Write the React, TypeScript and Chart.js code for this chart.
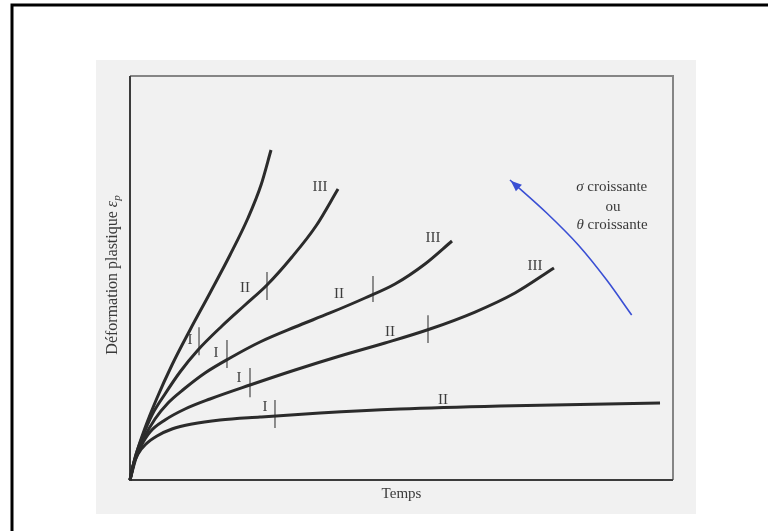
import React, { useEffect, useRef } from "react";
import { Chart, registerables } from "chart.js";

Chart.register(...registerables);

// Time (0-100) and plastic strain (0-100), arbitrary units
const curve1X = [0, 1.10, 2.76, 4.97, 7.73, 11.05, 14.73, 18.42, 21.73, 24.13, 25.97];
const curve1Y = [0, 6.19, 12.87, 20.30, 28.47, 37.13, 46.29, 55.69, 64.85, 73.02, 81.68];

const curve2X = [0, 0.92, 2.21, 4.05, 6.45, 9.21, 12.52, 16.94, 21.18, 25.23, 29.83, 34.25, 38.31];
const curve2Y = [0, 5.45, 10.40, 16.09, 21.29, 26.73, 32.18, 38.12, 43.32, 48.27, 55.20, 62.87, 72.03];

const curve3X = [0, 1.10, 2.58, 4.60, 7.00, 9.94, 13.81, 18.42, 23.94, 30.39, 36.83, 43.28, 48.80, 54.33, 59.30];
const curve3Y = [0, 5.45, 10.40, 15.10, 19.06, 22.52, 26.49, 30.20, 34.16, 37.87, 41.34, 45.05, 48.51, 53.47, 59.16];

const curve4X = [0, 0.74, 1.84, 3.68, 6.45, 10.13, 14.73, 22.10, 30.39, 38.67, 46.96, 55.25, 63.54, 70.90, 78.08];
const curve4Y = [0, 4.46, 7.92, 11.88, 14.85, 17.57, 20.05, 23.51, 27.23, 30.69, 33.91, 37.38, 41.58, 46.29, 52.48];

const curve5X = [0, 0.55, 1.47, 2.95, 4.97, 7.73, 11.42, 16.57, 23.94, 34.99, 49.72, 68.14, 97.61];
const curve5Y = [0, 3.47, 6.44, 8.91, 10.89, 12.62, 13.86, 14.85, 15.59, 16.58, 17.57, 18.32, 19.06];

// Stage boundary markers (x, y from, y to)
const markerX = [12.71, 17.86, 22.1, 26.7, 25.23, 44.75, 54.88];
const markerYLow = [30.9, 27.7, 20.5, 12.9, 44.55, 44.06, 33.9];
const markerYHigh = [37.8, 34.65, 27.7, 19.8, 51.5, 50.5, 40.8];

// Stage labels
const stageText = ["I", "I", "I", "I", "II", "II", "II", "II", "III", "III", "III"];
const stageX = [11.05, 15.84, 20.07, 24.86, 21.18, 38.49, 47.88, 57.64, 34.99, 55.8, 74.59];
const stageY = [34.65, 31.44, 25.25, 18.07, 47.52, 46.04, 36.63, 19.8, 72.52, 59.9, 52.97];

// Blue arrow (ascending x; head at first point)
const arrowX = [69.98, 76.74, 82.56, 87.79, 92.39];
const arrowY = [74.26, 66.09, 58.17, 49.5, 40.84];

const noteLines = ["σ croissante", "ou", "θ croissante"];
const noteX = [88.71, 88.95, 88.77];
const noteY = [72.6, 67.65, 63.12];

const xTitle = "Temps";
const yTitle = "Déformation plastique ";

const zip = (xs: number[], ys: number[]) => xs.map((x, i) => ({ x, y: ys[i] }));

const SERIF = "'Liberation Serif', 'DejaVu Serif', serif";

export default function App() {
  const ref = useRef<HTMLCanvasElement | null>(null);

  useEffect(() => {
    if (!ref.current) return;
    const curveStyle = {
      showLine: true,
      borderColor: "#2b2b2b",
      borderWidth: 3,
      pointRadius: 0,
      cubicInterpolationMode: "monotone" as const,
      clip: false as any,
    };
    const datasets: any[] = [
      { ...curveStyle, data: zip(curve1X, curve1Y) },
      { ...curveStyle, data: zip(curve2X, curve2Y) },
      { ...curveStyle, data: zip(curve3X, curve3Y) },
      { ...curveStyle, data: zip(curve4X, curve4Y) },
      { ...curveStyle, data: zip(curve5X, curve5Y) },
    ];
    markerX.forEach((mx, i) => {
      datasets.push({
        showLine: true,
        borderColor: "#6a6a6a",
        borderWidth: 1.5,
        pointRadius: 0,
        tension: 0,
        clip: false,
        data: [
          { x: mx, y: markerYLow[i] },
          { x: mx, y: markerYHigh[i] },
        ],
      });
    });
    datasets.push({
      showLine: true,
      borderColor: "#3a4fd4",
      borderWidth: 1.6,
      pointRadius: 0,
      cubicInterpolationMode: "monotone",
      clip: false,
      data: zip(arrowX, arrowY),
    });

    const decor = {
      id: "decor",
      beforeDraw(chart: any) {
        const ctx = chart.ctx;
        const { left, right, top, bottom } = chart.chartArea;
        ctx.save();
        ctx.fillStyle = "#ffffff";
        ctx.fillRect(0, 0, chart.width, chart.height);
        // scanned page
        ctx.fillStyle = "#f1f1f1";
        ctx.fillRect(96, 60, 600, 454);
        // outer frame
        ctx.strokeStyle = "#000";
        ctx.lineWidth = 3;
        ctx.beginPath();
        ctx.moveTo(12, 540);
        ctx.lineTo(12, 5);
        ctx.lineTo(780, 5);
        ctx.stroke();
        // plot frame: top/right grey
        ctx.strokeStyle = "#858585";
        ctx.lineWidth = 2;
        ctx.beginPath();
        ctx.moveTo(left, top);
        ctx.lineTo(right, top);
        ctx.lineTo(right, bottom);
        ctx.stroke();
        // axes: left/bottom dark
        ctx.strokeStyle = "#3c3c3c";
        ctx.lineWidth = 2;
        ctx.beginPath();
        ctx.moveTo(left, top);
        ctx.lineTo(left, bottom);
        ctx.lineTo(right, bottom);
        ctx.stroke();
        ctx.restore();
      },
      afterDatasetsDraw(chart: any) {
        const ctx = chart.ctx;
        const xs = chart.scales.x;
        const ys = chart.scales.y;
        const { left, right, bottom } = chart.chartArea;
        ctx.save();
        // stage labels
        ctx.fillStyle = "#3d3d3d";
        ctx.font = `15px ${SERIF}`;
        ctx.textAlign = "center";
        ctx.textBaseline = "middle";
        stageText.forEach((t, i) => {
          ctx.fillText(t, xs.getPixelForValue(stageX[i]), ys.getPixelForValue(stageY[i]));
        });
        // arrow head
        const hx = xs.getPixelForValue(arrowX[0]);
        const hy = ys.getPixelForValue(arrowY[0]);
        const bx = xs.getPixelForValue(arrowX[1]);
        const by = ys.getPixelForValue(arrowY[1]);
        const ang = Math.atan2(hy - by, hx - bx);
        const L = 12;
        const W = 4.5;
        ctx.fillStyle = "#3a4fd4";
        ctx.beginPath();
        ctx.moveTo(hx - 1 * Math.cos(ang), hy - 1 * Math.sin(ang));
        ctx.lineTo(
          hx - L * Math.cos(ang) + W * Math.sin(ang),
          hy - L * Math.sin(ang) - W * Math.cos(ang)
        );
        ctx.lineTo(
          hx - L * Math.cos(ang) - W * Math.sin(ang),
          hy - L * Math.sin(ang) + W * Math.cos(ang)
        );
        ctx.closePath();
        ctx.fill();
        // note text
        ctx.fillStyle = "#3a3a3a";
        const FS = 15;
        noteLines.forEach((t, i) => {
          const px = xs.getPixelForValue(noteX[i]);
          const py = ys.getPixelForValue(noteY[i]);
          if (t.length > 3) {
            const first = t[0];
            const rest = t.slice(1);
            ctx.font = `italic ${FS}px ${SERIF}`;
            const w1 = ctx.measureText(first).width;
            ctx.font = `${FS}px ${SERIF}`;
            const w2 = ctx.measureText(rest).width;
            const x0 = px - (w1 + w2) / 2;
            ctx.textAlign = "left";
            ctx.font = `italic ${FS}px ${SERIF}`;
            ctx.fillText(first, x0, py);
            ctx.font = `${FS}px ${SERIF}`;
            ctx.fillText(rest, x0 + w1, py);
            ctx.textAlign = "center";
          } else {
            ctx.font = `${FS}px ${SERIF}`;
            ctx.fillText(t, px, py);
          }
        });
        // x title
        ctx.font = `15px ${SERIF}`;
        ctx.textAlign = "center";
        ctx.fillText(xTitle, (left + right) / 2, bottom + 14);
        // y title
        ctx.translate(113, 275);
        ctx.rotate(-Math.PI / 2);
        const YS = 16;
        ctx.font = `${YS}px ${SERIF}`;
        const wA = ctx.measureText(yTitle).width;
        ctx.font = `italic ${YS}px ${SERIF}`;
        const wE = ctx.measureText("ε").width;
        ctx.font = `italic 11px ${SERIF}`;
        const wP = ctx.measureText("p").width;
        const total = wA + wE + wP;
        let x0 = -total / 2;
        ctx.textAlign = "left";
        ctx.font = `${YS}px ${SERIF}`;
        ctx.fillText(yTitle, x0, 0);
        x0 += wA;
        ctx.font = `italic ${YS}px ${SERIF}`;
        ctx.fillText("ε", x0, 0);
        x0 += wE;
        ctx.font = `italic 11px ${SERIF}`;
        ctx.fillText("p", x0, 4);
        ctx.restore();
      },
    };

    const chart = new Chart(ref.current, {
      type: "scatter",
      data: { datasets },
      options: {
        animation: false,
        responsive: false,
        devicePixelRatio: 1,
        layout: { padding: { left: 130, right: 95, top: 76, bottom: 51 } },
        plugins: { legend: { display: false }, tooltip: { enabled: false } },
        scales: {
          x: { type: "linear", min: 0, max: 100, display: false },
          y: { type: "linear", min: 0, max: 100, display: false },
        },
      },
      plugins: [decor],
    });
    return () => chart.destroy();
  }, []);

  return (
    <div style={{ position: "fixed", left: 0, top: 0, width: 768, height: 531 }}>
      <canvas ref={ref} width={768} height={531} style={{ display: "block" }} />
    </div>
  );
}
